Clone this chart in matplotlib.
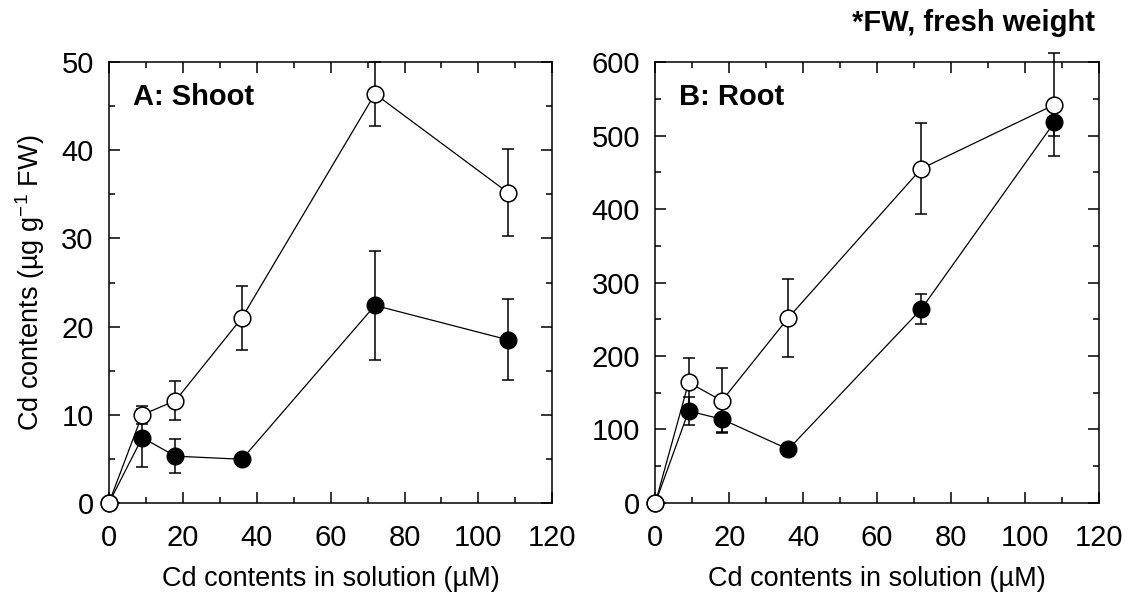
import numpy as np
import matplotlib
matplotlib.use('Agg')
import matplotlib.pyplot as plt
from matplotlib.ticker import MultipleLocator

plt.rcParams['font.family'] = ['Liberation Sans', 'DejaVu Sans']
plt.rcParams['mathtext.fontset'] = 'custom'
plt.rcParams['mathtext.rm'] = 'Liberation Sans'
plt.rcParams['mathtext.it'] = 'Liberation Sans'

# Cd in solution (uM)
x = [0, 9, 18, 36, 72, 108]

# A: shoot
shoot_open = [0, 10.0, 11.6, 21.0, 46.4, 35.2]
shoot_open_err = [0, 1.0, 2.2, 3.6, 3.6, 4.9]
shoot_fill = [0, 7.4, 5.3, 4.95, 22.4, 18.5]
shoot_fill_err = [0, 3.3, 1.9, 0, 6.2, 4.6]

# B: root
root_open = [0, 164, 139, 252, 455, 542]
root_open_err = [0, 33, 44, 53, 62, 70]
root_fill = [0, 125, 114, 73, 264, 518]
root_fill_err = [0, 19, 18, 0, 20, 18]

fig = plt.figure(figsize=(11.28, 6.03), dpi=100)
axA = fig.add_axes([0.0966, 0.166, 0.393, 0.731])
axB = fig.add_axes([0.581, 0.166, 0.393, 0.731])

def panel(ax, yo, eo, yf, ef, ymax, ymaj, ymin, label):
    # filled first, open on top
    ax.errorbar(x, yf, yerr=ef, fmt='-o', color='black', mfc='black', mec='black',
                ms=12, lw=0.9, elinewidth=1.1, capsize=4, capthick=1.1, clip_on=False, zorder=3)
    ax.errorbar(x, yo, yerr=eo, fmt='-o', color='black', mfc='white', mec='black',
                ms=12, mew=1.1, lw=0.9, elinewidth=1.1, capsize=4, capthick=1.1, clip_on=False, zorder=4)
    ax.set_xlim(0, 120)
    ax.set_ylim(0, ymax)
    ax.xaxis.set_major_locator(MultipleLocator(20))
    ax.xaxis.set_minor_locator(MultipleLocator(10))
    ax.yaxis.set_major_locator(MultipleLocator(ymaj))
    ax.yaxis.set_minor_locator(MultipleLocator(ymin))
    ax.tick_params(which='both', direction='in', top=True, right=True, width=1.1)
    ax.tick_params(which='major', length=8, labelsize=21)
    ax.tick_params(axis='x', which='major', pad=15)
    ax.tick_params(axis='y', which='major', pad=11)
    ax.tick_params(which='minor', length=4)
    for s in ax.spines.values():
        s.set_linewidth(1.1)
    ax.set_xlabel('Cd contents in solution (µM)', fontsize=19.5, labelpad=10)
    ax.text(0.054, 0.92, label, transform=ax.transAxes, fontsize=21,
            fontweight='bold', va='center', ha='left')

panel(axA, shoot_open, shoot_open_err, shoot_fill, shoot_fill_err, 50, 10, 5, 'A: Shoot')
panel(axB, root_open, root_open_err, root_fill, root_fill_err, 600, 100, 50, 'B: Root')

axA.set_ylabel('Cd contents (µg g$^{\u2212 1}$ FW)', fontsize=19.5, labelpad=10)
fig.text(0.971, 0.962, '*FW, fresh weight', fontsize=21, fontweight='bold',
         ha='right', va='center')

plt.savefig('out.png', dpi=100)
